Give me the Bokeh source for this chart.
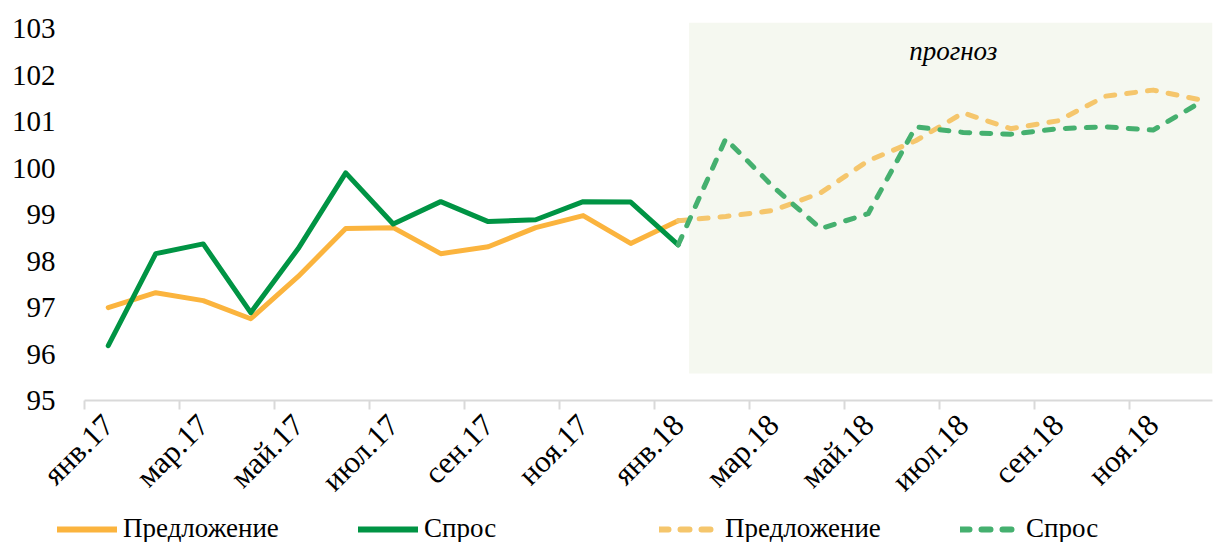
import math
from bokeh.plotting import figure
from bokeh.layouts import column, row
from bokeh.models import Range1d, FixedTicker, LinearAxis, Legend, LegendItem, Label
from bokeh.embed import file_html
from bokeh.resources import INLINE

months = ["янв.17", "фев.17", "мар.17", "апр.17", "май.17", "июн.17",
          "июл.17", "авг.17", "сен.17", "окт.17", "ноя.17", "дек.17",
          "янв.18", "фев.18", "мар.18", "апр.18", "май.18", "июн.18",
          "июл.18", "авг.18", "сен.18", "окт.18", "ноя.18", "дек.18"]

# actual data: янв.17 .. янв.18
supply_fact = [97.00, 97.32, 97.15, 96.76, 97.67, 98.70, 98.72,
               98.16, 98.31, 98.72, 98.98, 98.38, 98.87]
demand_fact = [96.18, 98.16, 98.37, 96.89, 98.27, 99.90, 98.80,
               99.28, 98.85, 98.89, 99.28, 99.27, 98.35]
# forecast: янв.18 .. дек.18
supply_fcst = [98.87, 98.96, 99.09, 99.47, 100.16, 100.59, 101.19,
               100.85, 101.02, 101.55, 101.68, 101.47]
demand_fcst = [98.35, 100.63, 99.60, 98.70, 99.02, 100.89, 100.77,
               100.73, 100.85, 100.89, 100.82, 101.42]
y_ticks = [95, 96, 97, 98, 99, 100, 101, 102, 103]
legend_labels = ["Предложение", "Спрос", "Предложение", "Спрос"]
forecast_label = "прогноз"

x_fact = list(range(len(supply_fact)))
x_fcst = list(range(len(supply_fact) - 1, len(supply_fact) - 1 + len(supply_fcst)))

FONT = "Liberation Serif"
C_SUP = "#FBB43E"
C_DEM = "#009444"
C_SUP_F = "#F5C66C"
C_DEM_F = "#45B06F"
DASH = "9 12"

p = figure(width=1213, height=514,
           x_range=Range1d(-0.5, 23.25), y_range=Range1d(95, 103.2),
           output_backend="svg", toolbar_location=None,
           x_axis_location=None, y_axis_location=None,
           min_border_left=84, min_border_right=1,
           min_border_top=19, min_border_bottom=114)
p.outline_line_color = None
p.xgrid.visible = False
p.ygrid.visible = False

# forecast shading
p.quad(left=[12.23], right=[23.25], bottom=[95.58], top=[103.13],
       fill_color="#F5F8F0", line_color=None)

p.line(x_fact, supply_fact, line_color=C_SUP, line_width=5, line_join="round", line_cap="round")
p.line(x_fact, demand_fact, line_color=C_DEM, line_width=5, line_join="round", line_cap="round")
p.line(x_fcst, supply_fcst, line_color=C_SUP_F, line_width=5, line_dash=DASH,
       line_join="round", line_cap="round")
p.line(x_fcst, demand_fcst, line_color=C_DEM_F, line_width=5, line_dash=DASH,
       line_join="round", line_cap="round")

p.add_layout(Label(x=17.79, y=102.53, text=forecast_label, text_font=FONT,
                   text_font_style="italic", text_font_size="27px",
                   text_align="center", text_baseline="middle", text_color="#000000"))

# y axis
yax = LinearAxis(ticker=FixedTicker(ticks=y_ticks))
yax.axis_line_color = None
yax.major_tick_line_color = None
yax.minor_tick_line_color = None
yax.major_label_standoff = 23
yax.major_label_text_font = FONT
yax.major_label_text_font_size = "29px"
yax.major_label_text_color = "#000000"
p.add_layout(yax, "left")

# x axis: tick marks at boundaries (no labels)
xax1 = LinearAxis(ticker=FixedTicker(ticks=[-0.5 + 2 * k for k in range(12)]))
xax1.axis_line_color = "#D9D9D9"
xax1.axis_line_width = 2
xax1.major_tick_line_color = "#D9D9D9"
xax1.major_tick_line_width = 2
xax1.major_tick_out = 9
xax1.major_tick_in = 0
xax1.minor_tick_line_color = None
xax1.major_label_text_color = None
xax1.major_label_text_font_size = "1px"
xax1.major_label_standoff = 0
p.add_layout(xax1, "below")

# x axis: labels at category centres
label_ticks = list(range(0, len(months), 2))
xax2 = LinearAxis(ticker=FixedTicker(ticks=label_ticks),
                  major_label_overrides={i: months[i] for i in label_ticks})
xax2.axis_line_color = None
xax2.major_tick_line_color = None
xax2.minor_tick_line_color = None
xax2.major_label_orientation = math.pi / 4
xax2.major_label_text_font = FONT
xax2.major_label_text_font_size = "31px"
xax2.major_label_text_color = "#000000"
xax2.major_label_standoff = 4
p.add_layout(xax2, "below")

# legend strip (separate plot)
lg = figure(width=1213, height=28, x_range=Range1d(0, 1), y_range=Range1d(0, 1),
            output_backend="svg", toolbar_location=None,
            x_axis_location=None, y_axis_location=None,
            min_border_left=0, min_border_right=0, min_border_top=0, min_border_bottom=0)
lg.outline_line_color = None
lg.xgrid.visible = False
lg.ygrid.visible = False
e1 = lg.line([5, 6], [5, 5], line_color=C_SUP, line_width=6, line_cap="round")
e2 = lg.line([5, 6], [5, 5], line_color=C_DEM, line_width=6, line_cap="round")
e3 = lg.line([5, 6], [5, 5], line_color=C_SUP_F, line_width=6, line_dash=DASH, line_cap="round")
e4 = lg.line([5, 6], [5, 5], line_color=C_DEM_F, line_width=6, line_dash=DASH, line_cap="round")

legend = Legend(items=[LegendItem(label=legend_labels[0], renderers=[e1]),
                       LegendItem(label=legend_labels[1], renderers=[e2]),
                       LegendItem(label=legend_labels[2], renderers=[e3]),
                       LegendItem(label=legend_labels[3], renderers=[e4])],
                orientation="horizontal", location=(57, -2),
                glyph_width=60, glyph_height=20, label_standoff=6,
                label_width=232, spacing=3, padding=0, margin=0,
                border_line_color=None, background_fill_alpha=0,
                label_text_font=FONT, label_text_font_size="27px",
                label_text_color="#000000")
lg.add_layout(legend, "center")

open("out.html", "w").write(file_html(column(p, row(lg), spacing=0), INLINE))
